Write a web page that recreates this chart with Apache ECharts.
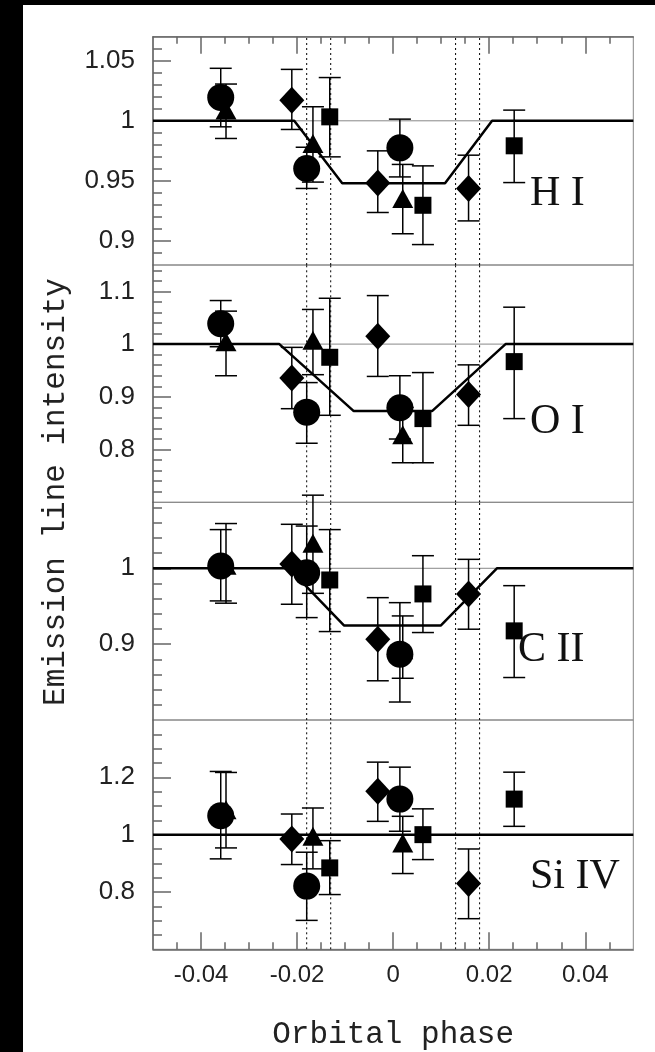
<!DOCTYPE html>
<html>
<head>
<meta charset="utf-8">
<script src="https://cdn.jsdelivr.net/npm/echarts@6/dist/echarts.min.js"></script>
<style>
html, body { margin: 0; padding: 0; background: #fff; }
#chart { width: 655px; height: 1052px; }
.edge-left { position: absolute; left: 0; top: 0; width: 23px; height: 1052px; background: #000; }
.edge-top { position: absolute; left: 0; top: 0; width: 655px; height: 5px; background: #000; }
</style>
</head>
<body>
<div id="chart"></div>
<div class="edge-left"></div>
<div class="edge-top"></div>
<script>
// panels, top to bottom
const panelNames = ['H I', 'O I', 'C II', 'Si IV']

// orbital phase of each observation (same in every panel)
const phaseCircle = [-0.0359, -0.0180, 0.0014]
const phaseTriangle = [-0.0348, -0.0167, 0.0020]
const phaseDiamond = [-0.0211, -0.0032, 0.0157]
const phaseSquare = [-0.0132, 0.0062, 0.0252]

// [value, lower, upper] per point
const hCircle = [[1.0195, 0.995, 1.0437], [0.9603, 0.9437, 0.978], [0.9775, 0.9533, 1.0014]]
const hTriangle = [[1.009, 0.9853, 1.0306], [0.9811, 0.949, 1.0117], [0.9353, 0.906, 0.9637]]
const hDiamond = [[1.0172, 0.9928, 1.0428], [0.9483, 0.9237, 0.975], [0.9437, 0.9167, 0.9714]]
const hSquare = [[1.0033, 0.97, 1.036], [0.9297, 0.897, 0.9625], [0.9792, 0.9486, 1.0089]]

const oCircle = [[1.0388, 0.995, 1.0826], [0.871, 0.812, 0.927], [0.8793, 0.82, 0.94]]
const oTriangle = [[1.0044, 0.94, 1.0625], [1.0075, 0.942, 1.0657], [0.828, 0.775, 0.88]]
const oDiamond = [[0.9356, 0.8775, 0.9938], [1.015, 0.9387, 1.092], [0.9043, 0.846, 0.9606]]
const oSquare = [[0.975, 0.865, 1.0869], [0.8587, 0.775, 0.946], [0.9668, 0.8587, 1.07]]

const cCircle = [[1.003, 0.957, 1.051], [0.9942, 0.935, 1.0557], [0.8868, 0.8237, 0.9547]]
const cTriangle = [[1.004, 0.954, 1.059], [1.033, 0.967, 1.0964], [0.8925, 0.855, 0.9372]]
const cDiamond = [[1.0057, 0.9526, 1.058], [0.9066, 0.8517, 0.9613], [0.9662, 0.9197, 1.0118]]
const cSquare = [[0.9846, 0.9166, 1.051], [0.9662, 0.9153, 1.0166], [0.9175, 0.856, 0.9771]]

const sCircle = [[1.066, 0.9155, 1.2205], [0.8205, 0.7009, 0.9387], [1.124, 1.0118, 1.2355]]
const sTriangle = [[1.087, 0.9537, 1.217], [0.9942, 0.8807, 1.093], [0.971, 0.8643, 1.064]]
const sDiamond = [[0.985, 0.8957, 1.072], [1.151, 1.0464, 1.253], [0.8296, 0.7068, 0.95]]
const sSquare = [[0.884, 0.791, 0.979], [1.0, 0.913, 1.09], [1.124, 1.029, 1.218]]

// eclipse model (trapezoid)
const hModelPhase = [-0.05, -0.0206, -0.0106, 0.0108, 0.0206, 0.05]
const hModelValue = [1, 1, 0.948, 0.948, 1, 1]
const oModelPhase = [-0.05, -0.0237, -0.0082, 0.0081, 0.0234, 0.05]
const oModelValue = [1, 1, 0.873, 0.873, 1, 1]
const cModelPhase = [-0.05, -0.0217, -0.0102, 0.0099, 0.0216, 0.05]
const cModelValue = [1, 1, 0.9245, 0.9245, 1, 1]
const sModelPhase = [-0.05, 0.05]
const sModelValue = [1, 1]

// contact phases (dotted lines)
const contactPhases = [-0.018, -0.013, 0.013, 0.018]

// axes
const xRange = [-0.05, 0.05]
const xTicks = [-0.04, -0.02, 0, 0.02, 0.04]
const yRanges = [[0.88, 1.07], [0.70, 1.15], [0.80, 1.087], [0.60, 1.40]]
const yTicks = [[0.9, 0.95, 1, 1.05], [0.8, 0.9, 1, 1.1], [0.9, 1], [0.8, 1, 1.2]]
const yMinorStep = [0.01, 0.02, 0.02, 0.05]

const panels = [
  { pts: [hCircle, hTriangle, hDiamond, hSquare], model: [hModelPhase, hModelValue] },
  { pts: [oCircle, oTriangle, oDiamond, oSquare], model: [oModelPhase, oModelValue] },
  { pts: [cCircle, cTriangle, cDiamond, cSquare], model: [cModelPhase, cModelValue] },
  { pts: [sCircle, sTriangle, sDiamond, sSquare], model: [sModelPhase, sModelValue] },
]
const phases = [phaseCircle, phaseTriangle, phaseDiamond, phaseSquare]
const symbols = ['circle', 'triangle', 'diamond', 'rect']
const symbolSizes = [27, [21, 19], [25, 27], 17]

// layout
const gridTops = [36.7, 265, 502.3, 720]
const gridHeights = [228.3, 237.3, 217.7, 229.3]
const labelPos = [[530, 194], [530, 422], [518, 650], [530, 877]]

const seq = (a, b, s) => {
  const out = []
  for (let v = a; v <= b + 1e-9; v += s) out.push(+v.toFixed(4))
  return out
}

const frameColor = '#666'
const labelStyle = { color: '#222', fontFamily: 'Liberation Sans', fontSize: 24 }

const grids = gridTops.map((t, i) => ({
  left: 153, right: 21.7, top: t, height: gridHeights[i],
  show: true, borderColor: '#888', borderWidth: 1,
}))

const xAxes = []
gridTops.forEach((_, i) => {
  const edge = i === 0 || i === 3
  xAxes.push({
    type: 'value', gridIndex: i, min: xRange[0], max: xRange[1],
    position: i === 0 ? 'top' : 'bottom',
    show: edge,
    splitLine: { show: false },
    axisLine: { show: true, onZero: false, lineStyle: { color: frameColor, width: 1.5 } },
    axisTick: { show: true, inside: true, length: 17, customValues: xTicks, lineStyle: { color: frameColor, width: 1.5 } },
    axisLabel: i === 3
      ? { show: true, customValues: xTicks, margin: 14, ...labelStyle }
      : { show: false },
    name: i === 3 ? 'Orbital phase' : '',
    nameLocation: 'middle',
    nameGap: 70,
    nameTextStyle: { fontFamily: 'Liberation Mono', fontSize: 31, color: '#222' },
  })
})
;[0, 3].forEach(g => {
  xAxes.push({
    type: 'value', gridIndex: g, min: xRange[0], max: xRange[1],
    position: g === 0 ? 'top' : 'bottom',
    splitLine: { show: false },
    axisLine: { show: false, onZero: false },
    axisLabel: { show: false },
    axisTick: { show: true, inside: true, length: 7, customValues: seq(-0.045, 0.045, 0.005), lineStyle: { color: frameColor, width: 1.5 } },
  })
})

const yAxes = []
yRanges.forEach((r, i) => {
  yAxes.push({
    type: 'value', gridIndex: i, min: r[0], max: r[1], position: 'left',
    splitLine: { show: false },
    axisLine: { show: true, onZero: false, lineStyle: { color: frameColor, width: 1.5 } },
    axisTick: { show: true, inside: true, length: 18, customValues: yTicks[i], lineStyle: { color: frameColor, width: 1.5 } },
    axisLabel: { show: true, customValues: yTicks[i], margin: 18, ...labelStyle, fontSize: 26 },
  })
})
yRanges.forEach((r, i) => {
  const st = yMinorStep[i]
  const minor = seq(r[0] + st, r[1], st).filter(v => v < r[1] && !yTicks[i].some(m => Math.abs(m - v) < 1e-6))
  yAxes.push({
    type: 'value', gridIndex: i, min: r[0], max: r[1], position: 'left',
    splitLine: { show: false },
    axisLine: { show: false, onZero: false },
    axisLabel: { show: false },
    axisTick: { show: true, inside: true, length: 9, customValues: minor, lineStyle: { color: frameColor, width: 1.5 } },
  })
})

const renderErr = (params, api) => {
  const x = api.value(0)
  const top = api.coord([x, api.value(2)])
  const bot = api.coord([x, api.value(1)])
  const w = 11
  const style = { stroke: '#000', lineWidth: 1.5 }
  return {
    type: 'group',
    children: [
      { type: 'line', shape: { x1: top[0], y1: top[1], x2: bot[0], y2: bot[1] }, style },
      { type: 'line', shape: { x1: top[0] - w, y1: top[1], x2: top[0] + w, y2: top[1] }, style },
      { type: 'line', shape: { x1: bot[0] - w, y1: bot[1], x2: bot[0] + w, y2: bot[1] }, style },
    ],
  }
}

const series = []
panels.forEach((p, i) => {
  const r = yRanges[i]
  // thin reference line at unity
  series.push({
    type: 'line', xAxisIndex: i, yAxisIndex: i, symbol: 'none', silent: true, z: 1,
    data: [[xRange[0], 1], [xRange[1], 1]],
    lineStyle: { color: '#888', width: 1 },
  })
  // dotted contact lines
  contactPhases.forEach(x => {
    series.push({
      type: 'line', xAxisIndex: i, yAxisIndex: i, symbol: 'none', silent: true, z: 1,
      data: [[x, r[0]], [x, r[1]]],
      lineStyle: { color: '#000', width: 1, type: [2, 3] },
    })
  })
  series.push({
    type: 'line', xAxisIndex: i, yAxisIndex: i,
    data: p.model[0].map((x, k) => [x, p.model[1][k]]),
    symbol: 'none', silent: true,
    lineStyle: { color: '#000', width: 2.5 },
    z: 3,
  })
  const errData = []
  p.pts.forEach((arr, s) => {
    arr.forEach((d, k) => errData.push([phases[s][k], d[1], d[2]]))
  })
  series.push({
    type: 'custom', xAxisIndex: i, yAxisIndex: i,
    renderItem: renderErr, data: errData, silent: true, z: 4,
    encode: { x: 0, y: [1, 2] },
  })
  p.pts.forEach((arr, s) => {
    series.push({
      type: 'scatter', xAxisIndex: i, yAxisIndex: i,
      symbol: symbols[s], symbolSize: symbolSizes[s],
      itemStyle: { color: '#000', opacity: 1 }, silent: true, z: 5,
      data: arr.map((d, k) => [phases[s][k], d[0]]),
    })
  })
})

const chart = echarts.init(document.getElementById('chart'), null, { renderer: 'canvas' })
chart.setOption({
  backgroundColor: '#fff',
  animation: false,
  grid: grids,
  xAxis: xAxes,
  yAxis: yAxes,
  series,
  graphic: [
    ...panelNames.map((t, i) => ({
      type: 'text', x: labelPos[i][0], y: labelPos[i][1], silent: true,
      style: { text: t, fontFamily: 'Liberation Serif', fontSize: 42, fill: '#111', align: 'left', verticalAlign: 'middle' },
    })),
    {
      type: 'text', x: 56, y: 492, rotation: Math.PI / 2, silent: true,
      style: { text: 'Emission line intensity', fontFamily: 'Liberation Mono', fontSize: 31, fill: '#222', align: 'center', verticalAlign: 'middle' },
    },
  ],
})
</script>
</body>
</html>
